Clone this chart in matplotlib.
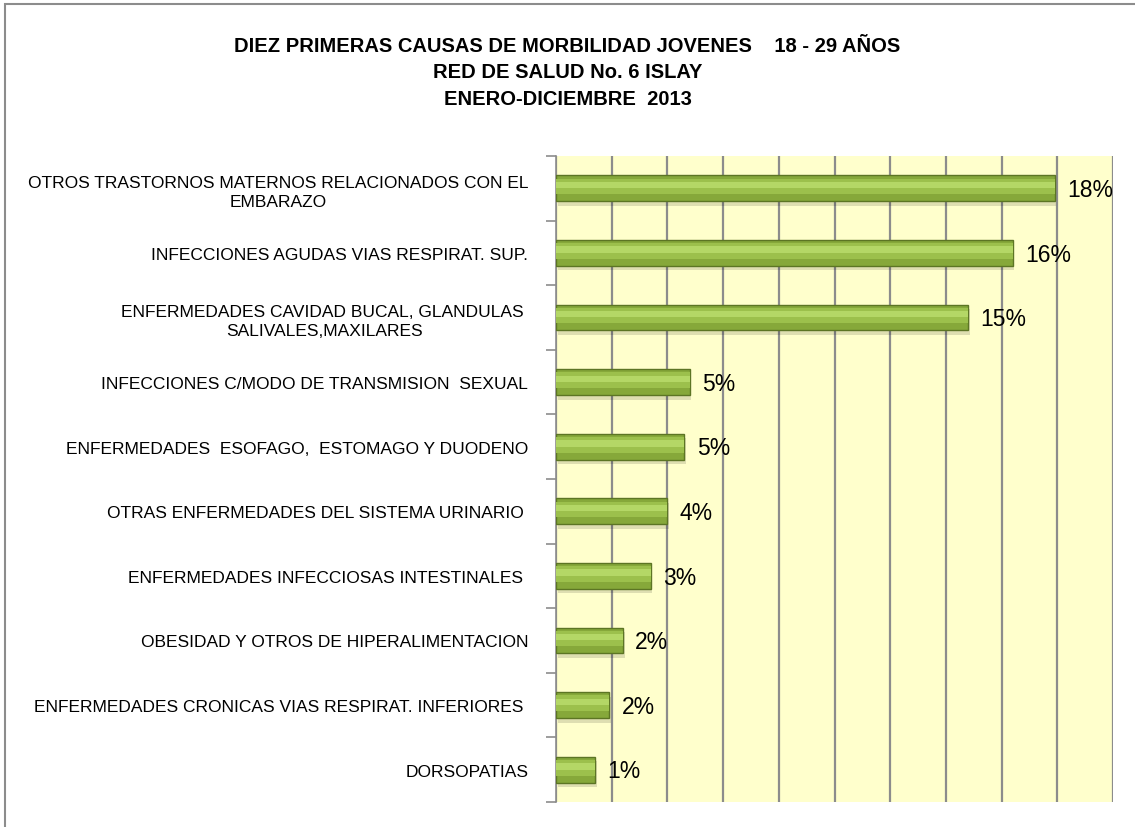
import matplotlib.pyplot as plt
from matplotlib.patches import Rectangle

causas = [
    "OTROS TRASTORNOS MATERNOS RELACIONADOS CON EL\nEMBARAZO",
    "INFECCIONES AGUDAS VIAS RESPIRAT. SUP.",
    "ENFERMEDADES CAVIDAD BUCAL, GLANDULAS \nSALIVALES,MAXILARES",
    "INFECCIONES C/MODO DE TRANSMISION  SEXUAL",
    "ENFERMEDADES  ESOFAGO,  ESTOMAGO Y DUODENO",
    "OTRAS ENFERMEDADES DEL SISTEMA URINARIO ",
    "ENFERMEDADES INFECCIOSAS INTESTINALES ",
    "OBESIDAD Y OTROS DE HIPERALIMENTACION",
    "ENFERMEDADES CRONICAS VIAS RESPIRAT. INFERIORES ",
    "DORSOPATIAS",
]
porcentaje = [0.179, 0.164, 0.148, 0.048, 0.046, 0.040, 0.034, 0.024, 0.019, 0.014]

titulo = "DIEZ PRIMERAS CAUSAS DE MORBILIDAD JOVENES    18 - 29 AÑOS\nRED DE SALUD No. 6 ISLAY\nENERO-DICIEMBRE  2013"

fuente = ["Liberation Sans", "DejaVu Sans"]

fig = plt.figure(figsize=(11.35, 8.28), dpi=100)
ax = fig.add_axes([556 / 1135, 1 - 803 / 828, (1113 - 556) / 1135, (803 - 157) / 828])

# outer border (only top and left visible in the original)
fig.patches.append(Rectangle((5 / 1135, -0.1), 1.2, 1 - 5 / 828 + 0.1, transform=fig.transFigure,
                             fill=False, edgecolor="#8c8c8c", linewidth=1.5))

ax.set_facecolor("#ffffcc")
y = list(range(len(causas)))

# shadow, body and highlights to imitate the bevel
ax.barh([v + 0.07 for v in y], porcentaje, height=0.40, left=0.0006, color="#000000", alpha=0.13, zorder=2)
ax.barh(y, porcentaje, height=0.40, color="#86a83a", edgecolor="#5c7524", linewidth=1.0, zorder=3)
ax.barh([v - 0.03 for v in y], porcentaje, height=0.24, color="#9cc04c", linewidth=0, zorder=4)
ax.barh([v - 0.05 for v in y], porcentaje, height=0.10, color="#b4d766", linewidth=0, zorder=4)

for yi, v in zip(y, porcentaje):
    ax.text(v + 0.0045, yi + 0.02, f"{v * 100:.0f}%", va="center", ha="left", fontsize=16.5,
            family=fuente, zorder=5)

ax.set_xlim(0, 0.20)
ax.set_ylim(9.5, -0.5)
ax.set_xticks([i * 0.02 for i in range(11)])
ax.tick_params(axis="x", length=0, labelbottom=False)
ax.grid(axis="x", color="#8c8c8c", linewidth=1.6, zorder=1)
ax.set_axisbelow(True)

ax.set_yticks(y)
ax.set_yticklabels(causas, fontsize=12.5, family=fuente, multialignment="center", linespacing=1.35)
ax.tick_params(axis="y", which="major", length=0, pad=20)
ax.set_yticks([i - 0.5 for i in range(11)], minor=True)
ax.tick_params(axis="y", which="minor", length=7, color="#8c8c8c", width=1.2)

for s in ["top", "right", "bottom"]:
    ax.spines[s].set_visible(False)
ax.spines["left"].set_color("#8c8c8c")
ax.spines["left"].set_linewidth(1.2)

fig.text(0.5, 1 - 73 / 828, titulo, ha="center", va="center", fontsize=14.5, fontweight="bold",
         linespacing=1.5, family=fuente)

fig.savefig("out.png", dpi=100)
